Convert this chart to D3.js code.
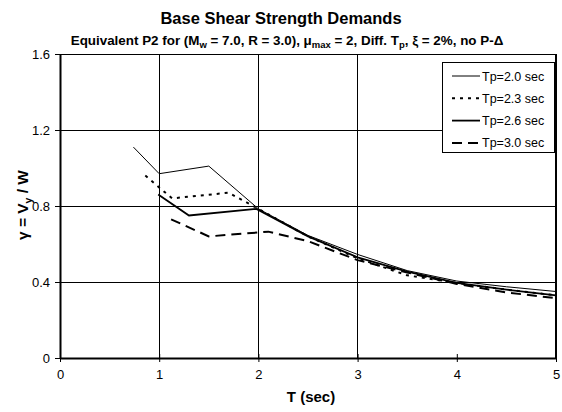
<!DOCTYPE html>
<html><head><meta charset="utf-8">
<script src="https://cdn.jsdelivr.net/npm/d3@7"></script>
<style>body{margin:0;background:#fff}svg{display:block;font-family:Arial,"Liberation Sans",sans-serif}</style>
</head><body>
<svg id="c" width="562" height="412"></svg>
<script>
const seriesNames = ["Tp=2.0 sec","Tp=2.3 sec","Tp=2.6 sec","Tp=3.0 sec"];
const tp20 = [[0.74,1.11],[1.0,0.97],[1.5,1.01],[2.0,0.785],[2.5,0.645],[3.0,0.545],[3.5,0.46],[4.0,0.405],[4.5,0.375],[5.0,0.35]];
const tp23 = [[0.86,0.96],[1.13,0.84],[1.7,0.87],[2.0,0.785],[2.5,0.64],[3.0,0.525],[3.5,0.435],[4.0,0.395],[4.5,0.36],[5.0,0.33]];
const tp26 = [[0.99,0.86],[1.3,0.75],[1.98,0.785],[2.5,0.64],[3.0,0.53],[3.5,0.455],[4.0,0.395],[4.5,0.36],[5.0,0.33]];
const tp30 = [[1.12,0.73],[1.5,0.64],[2.1,0.665],[2.5,0.615],[3.0,0.515],[3.5,0.45],[4.0,0.39],[4.5,0.345],[5.0,0.315]];
const xTicks = [0,1,2,3,4,5];
const yTicks = [0,0.4,0.8,1.2,1.6];
const xGrid = [1,2,3];
const yGrid = [0.4,0.8,1.2];

const styles = [
  {w:1, dash:null},
  {w:2, dash:"3,5"},
  {w:1.8, dash:null},
  {w:2, dash:"10,6"}
];
const data = [tp20,tp23,tp26,tp30];

const svg = d3.select("#c");
const L=60,R=556,T=54,B=358;
const x = d3.scaleLinear().domain([0,5]).range([L,R]);
const y = d3.scaleLinear().domain([0,1.6]).range([B,T]);

// grid
svg.append("g").selectAll("line").data(xGrid).join("line")
  .attr("x1",d=>x(d)).attr("x2",d=>x(d)).attr("y1",T).attr("y2",B)
  .attr("stroke","#000").attr("stroke-width",1).attr("shape-rendering","crispEdges");
svg.append("g").selectAll("line").data(yGrid).join("line")
  .attr("x1",L).attr("x2",R).attr("y1",d=>y(d)).attr("y2",d=>y(d))
  .attr("stroke","#000").attr("stroke-width",1).attr("shape-rendering","crispEdges");
// border
svg.append("line").attr("x1",L).attr("x2",R).attr("y1",T).attr("y2",T).attr("stroke","#000").attr("stroke-width",1).attr("shape-rendering","crispEdges");
svg.append("line").attr("x1",R).attr("x2",R).attr("y1",T).attr("y2",B).attr("stroke","#000").attr("stroke-width",2).attr("shape-rendering","crispEdges");

// axes
const xAxis = svg.append("g").attr("transform",`translate(0,${B})`)
  .call(d3.axisBottom(x).tickValues(xTicks).tickFormat(d3.format("d")).tickSize(4).tickSizeOuter(0));
const yAxis = svg.append("g").attr("transform",`translate(${L},0)`)
  .call(d3.axisLeft(y).tickValues(yTicks).tickFormat(d=>d===0?"0":d3.format(".1f")(d)).tickSize(5).tickSizeOuter(0));
[xAxis,yAxis].forEach(g=>{
  g.select(".domain").attr("stroke-width",2);
  g.selectAll("text").attr("font-size",13).attr("fill","#000").attr("font-family","Arial, 'Liberation Sans', sans-serif");
});
xAxis.selectAll(".tick line").attr("y1",-4);
xAxis.selectAll("text").attr("dy","1.05em");
yAxis.selectAll("text").attr("x",-10);

// lines
const line = d3.line().x(d=>x(d[0])).y(d=>y(d[1]));
data.forEach((s,i)=>{
  svg.append("path").datum(s).attr("d",line).attr("fill","none")
    .attr("stroke","#000").attr("stroke-width",styles[i].w)
    .attr("stroke-dasharray",styles[i].dash);
});

// legend
const lg = svg.append("g");
lg.append("rect").attr("x",442.5).attr("y",62.5).attr("width",112).attr("height",90)
  .attr("fill","#fff").attr("stroke","#000").attr("stroke-width",1);
seriesNames.forEach((n,i)=>{
  const yy = 76 + i*22.3;
  lg.append("line").attr("x1",452).attr("x2",480).attr("y1",yy).attr("y2",yy)
    .attr("stroke","#000").attr("stroke-width",styles[i].w).attr("stroke-dasharray",styles[i].dash);
  lg.append("text").attr("x",482).attr("y",yy+4.5).attr("font-size",12.5).text(n);
});

// titles
svg.append("text").attr("x",281).attr("y",24).attr("text-anchor","middle")
  .attr("font-weight","bold").attr("font-size",16.5).text("Base Shear Strength Demands");
const st = svg.append("text").attr("x",287).attr("y",45).attr("text-anchor","middle")
  .attr("font-weight","bold").attr("font-size",13.4);
st.append("tspan").text("Equivalent P2 for (M");
st.append("tspan").attr("font-size",9.5).attr("dy",3).text("w");
st.append("tspan").attr("dy",-3).text(" = 7.0, R = 3.0), μ");
st.append("tspan").attr("font-size",9.5).attr("dy",3).text("max");
st.append("tspan").attr("dy",-3).text(" = 2, Diff. T");
st.append("tspan").attr("font-size",9.5).attr("dy",3).text("p");
st.append("tspan").attr("dy",-3).text(", ξ = 2%, no P-Δ");

svg.append("text").attr("x",(L+R)/2+3).attr("y",402).attr("text-anchor","middle")
  .attr("font-weight","bold").attr("font-size",15).text("T (sec)");

const yl = svg.append("text").attr("transform","translate(28,205) rotate(-90)").attr("text-anchor","middle")
  .attr("font-weight","bold").attr("font-size",15.5);
yl.append("tspan").text("γ = V");
yl.append("tspan").attr("font-size",10.5).attr("dy",4).text("y");
yl.append("tspan").attr("dy",-4).text(" / W");
</script>
</body></html>
